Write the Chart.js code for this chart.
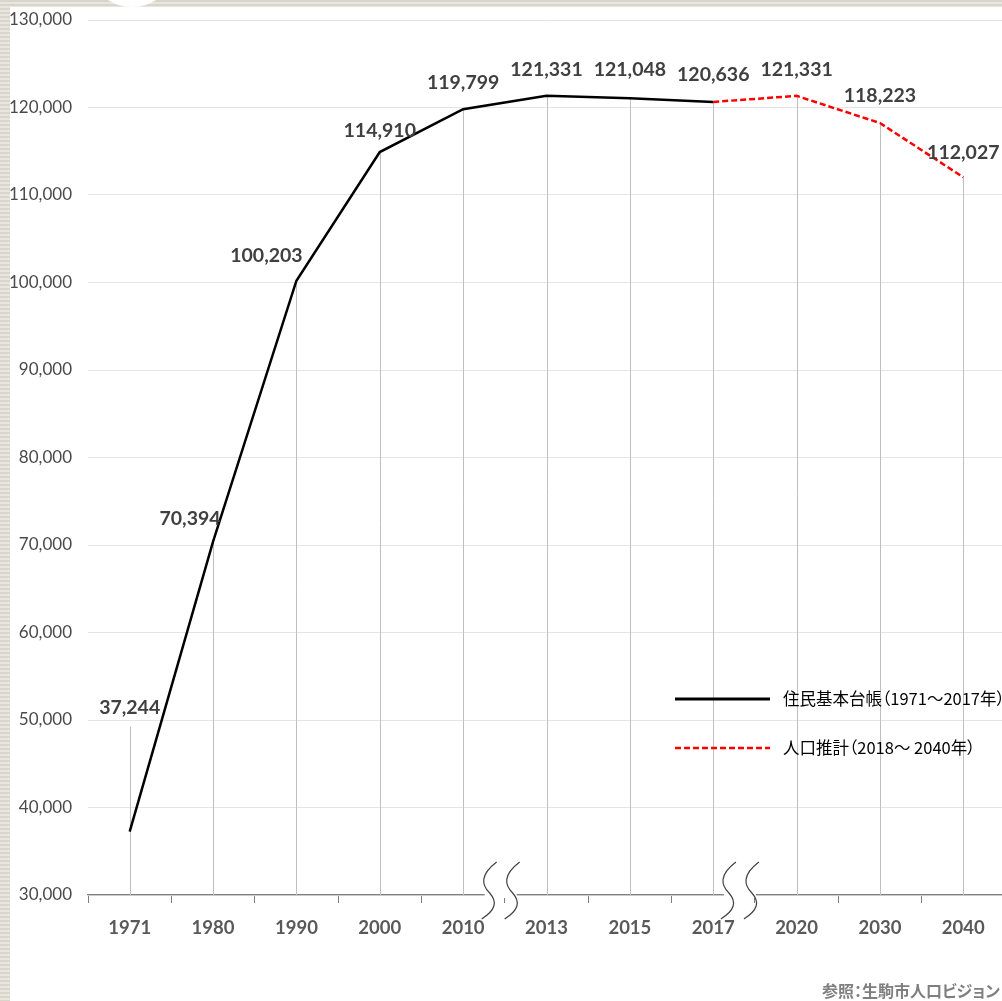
<!DOCTYPE html>
<html><head><meta charset="utf-8">
<script src="https://cdn.jsdelivr.net/npm/chart.js@4.4.1/dist/chart.umd.min.js"></script>
<style>
html,body{margin:0;padding:0;width:1002px;height:1001px;overflow:hidden;background:#fff;}
#frameL{position:absolute;left:0;top:0;width:10px;height:1001px;background:repeating-linear-gradient(to bottom,#d8d5cb 0 2px,#e8e6de 2px 4px);}
#frameT{position:absolute;left:0;top:0;width:1002px;height:7px;background:repeating-linear-gradient(to bottom,#d8d5cb 0 2px,#e8e6de 2px 4px);}
#blob{position:absolute;left:96px;top:-48px;width:72px;height:55px;border-radius:50%;background:#fff;}
#wrap{position:absolute;left:10px;top:7px;width:1000px;height:994px;}
#src{position:absolute;left:822px;top:978px;font:bold 16px "Noto Sans CJK JP";color:#7f7f7f;white-space:nowrap;font-feature-settings:"palt";}
.lg{position:absolute;left:783px;font:16.5px "Noto Sans CJK JP";color:#000;white-space:nowrap;font-feature-settings:"palt";line-height:20px;}
</style></head>
<body>
<div id="frameL"></div><div id="frameT"></div><div id="blob"></div>
<div id="wrap"><canvas id="c" width="1000" height="994"></canvas></div>
<div id="lg0" class="lg" style="top:688px"></div>
<div id="lg1" class="lg" style="top:737px"></div>
<div id="src">参照：生駒市人口ビジョン</div>
<script>
const years = ["1971","1980","1990","2000","2010","2013","2015","2017","2020","2030","2040"];
const registry = [37244,70394,100203,114910,119799,121331,121048,120636,null,null,null];
const projection = [null,null,null,null,null,null,null,120636,121331,118223,112027];
const labelValues = [37244,70394,100203,114910,119799,121331,121048,120636,121331,118223,112027];
const yTicks = [30000,40000,50000,60000,70000,80000,90000,100000,110000,120000,130000];
const legendNames = ["住民基本台帳（1971～2017年）","人口推計（2018～ 2040年）"];

document.getElementById('lg0').textContent = legendNames[0];
document.getElementById('lg1').textContent = legendNames[1];

// label placement offsets (px from point)
const labelOffsets = [[0,-124],[-23,-23],[-30,-25],[0,-21],[0,-27],[0,-26],[0,-29],[0,-27],[0,-26],[0,-27],[0,-25]];
const breakAt = [4.45, 7.32];

const fmt = v => v.toLocaleString('en-US');

const overlay = {
  id:'overlay',
  beforeDatasetsDraw(chart){
    const ctx = chart.ctx, x = chart.scales.x, y = chart.scales.y;
    const bottom = chart.chartArea.bottom;
    ctx.save();
    ctx.strokeStyle = '#bfbfbf'; ctx.lineWidth = 1;
    labelValues.forEach((v,i)=>{
      const px = Math.round(x.getPixelForValue(i))+0.5;
      let top = y.getPixelForValue(v);
      if(i===0) top = top + labelOffsets[0][1] + 19;
      ctx.beginPath(); ctx.moveTo(px,top); ctx.lineTo(px,bottom); ctx.stroke();
    });
    ctx.restore();
  },
  afterDatasetsDraw(chart){
    const ctx = chart.ctx, x = chart.scales.x, y = chart.scales.y;
    const bottom = chart.chartArea.bottom;
    ctx.save();
    // data labels
    ctx.font = 'bold 19.5px Lato';
    ctx.fillStyle = '#404040';
    ctx.textAlign = 'center'; ctx.textBaseline = 'middle';
    labelValues.forEach((v,i)=>{
      const px = x.getPixelForValue(i), py = y.getPixelForValue(v);
      ctx.fillText(fmt(v), px+labelOffsets[i][0], py+labelOffsets[i][1]);
    });
    // axis breaks
    const w = (x.getPixelForValue(1)-x.getPixelForValue(0));
    breakAt.forEach(b=>{
      const cx = x.getPixelForValue(0) + b*w;
      ctx.fillStyle = '#fff';
      ctx.fillRect(cx-16, bottom-3, 32, 6);
      [cx-11, cx+12].forEach(sx=>{
        ctx.strokeStyle = '#404040'; ctx.lineWidth = 1.2;
        ctx.beginPath();
        ctx.moveTo(sx+7, bottom-33);
        ctx.bezierCurveTo(sx-10, bottom-20, sx-8, bottom-10, sx, bottom-2);
        ctx.bezierCurveTo(sx+8, bottom+7, sx+6, bottom+15, sx-8, bottom+24);
        ctx.stroke();
      });
    });
    // legend line samples
    const lx0 = 665, lx1 = 760, ly = [692, 741];
    ctx.lineWidth = 3; ctx.strokeStyle = '#000'; ctx.setLineDash([]);
    ctx.beginPath(); ctx.moveTo(lx0, ly[0]); ctx.lineTo(lx1, ly[0]); ctx.stroke();
    ctx.strokeStyle = '#ff0000'; ctx.lineWidth = 2.5; ctx.setLineDash([6,3]);
    ctx.beginPath(); ctx.moveTo(lx0, ly[1]); ctx.lineTo(lx1, ly[1]); ctx.stroke();
    ctx.restore();
  }
};

new Chart(document.getElementById('c'), {
  type:'line',
  data:{
    labels: years,
    datasets:[
      {label:legendNames[0], data:registry, borderColor:'#000', borderWidth:2.5, pointRadius:0, tension:0, spanGaps:false},
      {label:legendNames[1], data:projection, borderColor:'#ff0000', borderWidth:2.5, borderDash:[6,3], pointRadius:0, tension:0, spanGaps:false}
    ]
  },
  options:{
    responsive:false, animation:false,
    layout:{padding:{top:13, right:5, left:0, bottom:0}},
    plugins:{legend:{display:false}, tooltip:{enabled:false}},
    scales:{
      x:{
        offset:true,
        grid:{offset:true, drawOnChartArea:false, drawTicks:true, tickLength:8, color:'#7f7f7f'},
        border:{display:true, color:'#7f7f7f', width:1.3},
        ticks:{font:{family:'Lato', size:18.5, weight:'bold'}, color:'#595959', padding:14, maxRotation:0, autoSkip:false},
        afterFit(s){ s.height = 106; s.paddingLeft = 0; s.paddingRight = 0; }
      },
      y:{
        min:30000, max:130000,
        afterBuildTicks(s){ s.ticks = yTicks.map(v=>({value:v})); },
        grid:{color:'#e4e4e4', drawTicks:false, lineWidth:1},
        border:{display:false},
        ticks:{font:{family:'Lato', size:17}, color:'#4a4a4a', padding:16, callback:v=>fmt(v)},
        afterFit(s){ s.width = 78; s.paddingTop = 0; s.paddingBottom = 0; }
      }
    }
  },
  plugins:[overlay]
});
</script>
</body></html>
